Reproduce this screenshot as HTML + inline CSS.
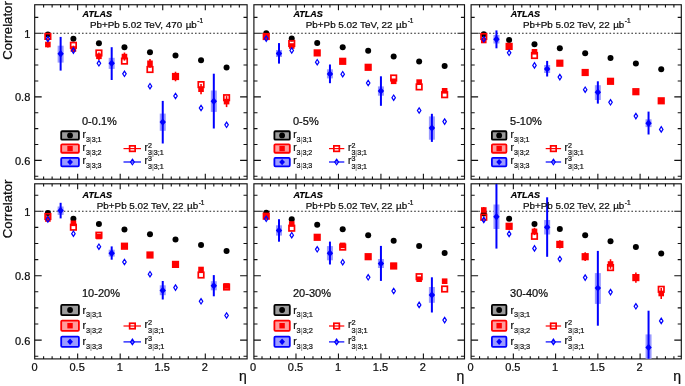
<!DOCTYPE html><html><head><meta charset="utf-8"><style>html,body{margin:0;padding:0;background:#fff;}svg{display:block;filter:blur(0.35px);font-family:'Liberation Sans', sans-serif;} text{stroke:currentColor;stroke-width:0.22px;}</style></head><body><svg width="685" height="386" viewBox="0 0 685 386"><rect width="685" height="386" fill="#fff"/><rect x="34.7" y="4.75" width="212.4" height="174.45" fill="none" stroke="#111" stroke-width="1.15"/><path d="M34.7 176.29h3.6M247.1 176.29h-3.6M34.7 160.4h7M247.1 160.4h-7M34.7 144.51h3.6M247.1 144.51h-3.6M34.7 128.62h3.6M247.1 128.62h-3.6M34.7 112.74h3.6M247.1 112.74h-3.6M34.7 96.85h7M247.1 96.85h-7M34.7 80.96h3.6M247.1 80.96h-3.6M34.7 65.07h3.6M247.1 65.07h-3.6M34.7 49.19h3.6M247.1 49.19h-3.6M34.7 33.3h7M247.1 33.3h-7M34.7 17.41h3.6M247.1 17.41h-3.6M43.61 179.2v-2.7M43.61 4.75v2.7M52.12 179.2v-2.7M52.12 4.75v2.7M60.63 179.2v-2.7M60.63 4.75v2.7M69.14 179.2v-2.7M69.14 4.75v2.7M77.65 179.2v-5.5M77.65 4.75v5.5M86.16 179.2v-2.7M86.16 4.75v2.7M94.67 179.2v-2.7M94.67 4.75v2.7M103.18 179.2v-2.7M103.18 4.75v2.7M111.69 179.2v-2.7M111.69 4.75v2.7M120.2 179.2v-5.5M120.2 4.75v5.5M128.71 179.2v-2.7M128.71 4.75v2.7M137.22 179.2v-2.7M137.22 4.75v2.7M145.73 179.2v-2.7M145.73 4.75v2.7M154.24 179.2v-2.7M154.24 4.75v2.7M162.75 179.2v-5.5M162.75 4.75v5.5M171.26 179.2v-2.7M171.26 4.75v2.7M179.77 179.2v-2.7M179.77 4.75v2.7M188.28 179.2v-2.7M188.28 4.75v2.7M196.79 179.2v-2.7M196.79 4.75v2.7M205.3 179.2v-5.5M205.3 4.75v5.5M213.81 179.2v-2.7M213.81 4.75v2.7M222.32 179.2v-2.7M222.32 4.75v2.7M230.83 179.2v-2.7M230.83 4.75v2.7M239.34 179.2v-2.7M239.34 4.75v2.7" stroke="#111" stroke-width="1.1" fill="none"/><line x1="41.9" y1="33.3" x2="240.1" y2="33.3" stroke="#222" stroke-width="1.1" stroke-dasharray="1.6 2.045"/><rect x="57.63" y="45.7" width="6" height="16.9" fill="#9a9aff"/><line x1="60.63" y1="36.9" x2="60.63" y2="70.6" stroke="#0000ff" stroke-width="2"/><rect x="108.69" y="57.8" width="6" height="11.1" fill="#9a9aff"/><line x1="111.69" y1="47.2" x2="111.69" y2="80" stroke="#0000ff" stroke-width="2"/><rect x="159.75" y="113.6" width="6" height="17.2" fill="#9a9aff"/><line x1="162.75" y1="100.9" x2="162.75" y2="143.5" stroke="#0000ff" stroke-width="2"/><rect x="210.81" y="90.5" width="6" height="21.4" fill="#9a9aff"/><line x1="213.81" y1="73.7" x2="213.81" y2="128.5" stroke="#0000ff" stroke-width="2"/><line x1="47.87" y1="41.52" x2="47.87" y2="47.48" stroke="#ff0000" stroke-width="1.6"/><line x1="73.4" y1="45.66" x2="73.4" y2="52.34" stroke="#ff0000" stroke-width="1.6"/><line x1="98.92" y1="52.6" x2="98.92" y2="60" stroke="#ff0000" stroke-width="1.6"/><line x1="124.46" y1="52.54" x2="124.46" y2="60.66" stroke="#ff0000" stroke-width="1.6"/><line x1="149.99" y1="58.88" x2="149.99" y2="67.72" stroke="#ff0000" stroke-width="1.6"/><line x1="175.51" y1="71.72" x2="175.51" y2="81.28" stroke="#ff0000" stroke-width="1.6"/><line x1="201.04" y1="84.06" x2="201.04" y2="94.34" stroke="#ff0000" stroke-width="1.6"/><line x1="226.57" y1="96.1" x2="226.57" y2="107.1" stroke="#ff0000" stroke-width="1.6"/><circle cx="47.87" cy="34.5" r="3" fill="#000000"/><circle cx="73.4" cy="38.8" r="3" fill="#000000"/><circle cx="98.92" cy="43.3" r="3" fill="#000000"/><circle cx="124.46" cy="47.2" r="3" fill="#000000"/><circle cx="149.99" cy="52.2" r="3" fill="#000000"/><circle cx="175.51" cy="55.5" r="3" fill="#000000"/><circle cx="201.04" cy="60.3" r="3" fill="#000000"/><circle cx="226.57" cy="67.4" r="3" fill="#000000"/><rect x="45.07" y="41.7" width="5.6" height="5.6" fill="#ff0000"/><rect x="70.6" y="46.2" width="5.6" height="5.6" fill="#ff0000"/><rect x="96.12" y="53.5" width="5.6" height="5.6" fill="#ff0000"/><rect x="121.66" y="53.8" width="5.6" height="5.6" fill="#ff0000"/><rect x="147.19" y="60.5" width="5.6" height="5.6" fill="#ff0000"/><rect x="172.71" y="73.7" width="5.6" height="5.6" fill="#ff0000"/><rect x="198.24" y="86.4" width="5.6" height="5.6" fill="#ff0000"/><rect x="223.77" y="98.8" width="5.6" height="5.6" fill="#ff0000"/><rect x="45.12" y="33.65" width="5.5" height="5.5" fill="none" stroke="#ff0000" stroke-width="1.7"/><rect x="70.65" y="42.55" width="5.5" height="5.5" fill="none" stroke="#ff0000" stroke-width="1.7"/><rect x="96.17" y="50.25" width="5.5" height="5.5" fill="none" stroke="#ff0000" stroke-width="1.7"/><rect x="121.71" y="58.35" width="5.5" height="5.5" fill="none" stroke="#ff0000" stroke-width="1.7"/><rect x="147.24" y="66.75" width="5.5" height="5.5" fill="none" stroke="#ff0000" stroke-width="1.7"/><rect x="172.76" y="73.75" width="5.5" height="5.5" fill="none" stroke="#ff0000" stroke-width="1.7"/><rect x="198.29" y="81.85" width="5.5" height="5.5" fill="none" stroke="#ff0000" stroke-width="1.7"/><rect x="223.82" y="94.95" width="5.5" height="5.5" fill="none" stroke="#ff0000" stroke-width="1.7"/><path d="M60.63 50.1L63.83 53.8L60.63 57.5L57.43 53.8Z" fill="#0000ff"/><path d="M111.69 59.6L114.89 63.3L111.69 67L108.49 63.3Z" fill="#0000ff"/><path d="M162.75 118.4L165.95 122.1L162.75 125.8L159.55 122.1Z" fill="#0000ff"/><path d="M213.81 97.6L217.01 101.3L213.81 105L210.61 101.3Z" fill="#0000ff"/><path d="M47.87 36.3L49.62 39L47.87 41.7L46.12 39Z" fill="none" stroke="#0000ff" stroke-width="1.2"/><path d="M73.4 47.9L75.15 50.6L73.4 53.3L71.65 50.6Z" fill="none" stroke="#0000ff" stroke-width="1.2"/><path d="M98.92 60.6L100.67 63.3L98.92 66L97.17 63.3Z" fill="none" stroke="#0000ff" stroke-width="1.2"/><path d="M124.46 71.1L126.21 73.8L124.46 76.5L122.71 73.8Z" fill="none" stroke="#0000ff" stroke-width="1.2"/><path d="M149.99 83.5L151.74 86.2L149.99 88.9L148.24 86.2Z" fill="none" stroke="#0000ff" stroke-width="1.2"/><path d="M175.51 93.3L177.26 96L175.51 98.7L173.76 96Z" fill="none" stroke="#0000ff" stroke-width="1.2"/><path d="M201.04 105.3L202.79 108L201.04 110.7L199.29 108Z" fill="none" stroke="#0000ff" stroke-width="1.2"/><path d="M226.57 122.1L228.32 124.8L226.57 127.5L224.82 124.8Z" fill="none" stroke="#0000ff" stroke-width="1.2"/><text x="82.6" y="17.1" font-size="9" font-weight="bold" font-style="italic" fill="#000">ATLAS</text><text x="90" y="27.5" font-size="9.85" fill="#111">Pb+Pb 5.02 TeV, 470 <tspan dx="0.7">µb</tspan><tspan font-size="6.5" dx="0.5" dy="-4.2">-1</tspan></text><text x="82" y="125" font-size="11" fill="#111">0-0.1%</text><rect x="61.2" y="131.25" width="17.7" height="8.4" rx="1" fill="#9c9c9c" stroke="#000000" stroke-width="1.8"/><circle cx="70.05" cy="135.45" r="2.9" fill="#000000"/><text x="82.5" y="137.75" font-size="10" fill="#111">r</text><text x="85.9" y="141.55" font-size="7.1" fill="#222">3<tspan fill="#8a8a8a" stroke="#8a8a8a">|</tspan>3;1</text><rect x="61.2" y="144.35" width="17.7" height="8.4" rx="1" fill="#ff9c9c" stroke="#ff0000" stroke-width="1.8"/><rect x="67.35" y="145.85" width="5.4" height="5.4" fill="#ff0000"/><text x="82.5" y="150.85" font-size="10" fill="#111">r</text><text x="85.9" y="154.65" font-size="7.1" fill="#222">3<tspan fill="#8a8a8a" stroke="#8a8a8a">|</tspan>3;2</text><rect x="61.2" y="157.9" width="17.7" height="8.4" rx="1" fill="#9c9cff" stroke="#0000ff" stroke-width="1.8"/><path d="M70.05 158.9L72.95 162.1L70.05 165.3L67.15 162.1Z" fill="#0000ff"/><text x="82.5" y="164.4" font-size="10" fill="#111">r</text><text x="85.9" y="168.2" font-size="7.1" fill="#222">3<tspan fill="#8a8a8a" stroke="#8a8a8a">|</tspan>3;3</text><line x1="123.5" y1="148.6" x2="141" y2="148.6" stroke="#ff0000" stroke-width="1.2"/><rect x="129.65" y="145.85" width="5.5" height="5.5" fill="none" stroke="#ff0000" stroke-width="1.7"/><text x="144.6" y="150.8" font-size="10" fill="#111">r</text><text x="148" y="147.5" font-size="7.1" fill="#222">2</text><text x="148" y="155.2" font-size="7.1" fill="#222">3<tspan fill="#8a8a8a" stroke="#8a8a8a">|</tspan>3;1</text><line x1="123.5" y1="162" x2="141" y2="162" stroke="#0000ff" stroke-width="1.2"/><path d="M132.4 159.2L134.3 162L132.4 164.8L130.5 162Z" fill="none" stroke="#0000ff" stroke-width="1.2"/><text x="144.6" y="164.2" font-size="10" fill="#111">r</text><text x="148" y="160.9" font-size="7.1" fill="#222">3</text><text x="148" y="168.6" font-size="7.1" fill="#222">3<tspan fill="#8a8a8a" stroke="#8a8a8a">|</tspan>3;1</text><rect x="253.9" y="4.75" width="210.6" height="174.45" fill="none" stroke="#111" stroke-width="1.15"/><path d="M253.9 176.29h3.6M464.5 176.29h-3.6M253.9 160.4h7M464.5 160.4h-7M253.9 144.51h3.6M464.5 144.51h-3.6M253.9 128.62h3.6M464.5 128.62h-3.6M253.9 112.74h3.6M464.5 112.74h-3.6M253.9 96.85h7M464.5 96.85h-7M253.9 80.96h3.6M464.5 80.96h-3.6M253.9 65.07h3.6M464.5 65.07h-3.6M253.9 49.19h3.6M464.5 49.19h-3.6M253.9 33.3h7M464.5 33.3h-7M253.9 17.41h3.6M464.5 17.41h-3.6M262 179.2v-2.7M262 4.75v2.7M270.49 179.2v-2.7M270.49 4.75v2.7M278.99 179.2v-2.7M278.99 4.75v2.7M287.48 179.2v-2.7M287.48 4.75v2.7M295.98 179.2v-5.5M295.98 4.75v5.5M304.47 179.2v-2.7M304.47 4.75v2.7M312.96 179.2v-2.7M312.96 4.75v2.7M321.46 179.2v-2.7M321.46 4.75v2.7M329.95 179.2v-2.7M329.95 4.75v2.7M338.45 179.2v-5.5M338.45 4.75v5.5M346.94 179.2v-2.7M346.94 4.75v2.7M355.44 179.2v-2.7M355.44 4.75v2.7M363.94 179.2v-2.7M363.94 4.75v2.7M372.43 179.2v-2.7M372.43 4.75v2.7M380.93 179.2v-5.5M380.93 4.75v5.5M389.42 179.2v-2.7M389.42 4.75v2.7M397.91 179.2v-2.7M397.91 4.75v2.7M406.41 179.2v-2.7M406.41 4.75v2.7M414.9 179.2v-2.7M414.9 4.75v2.7M423.4 179.2v-5.5M423.4 4.75v5.5M431.89 179.2v-2.7M431.89 4.75v2.7M440.39 179.2v-2.7M440.39 4.75v2.7M448.88 179.2v-2.7M448.88 4.75v2.7M457.38 179.2v-2.7M457.38 4.75v2.7" stroke="#111" stroke-width="1.1" fill="none"/><line x1="261.1" y1="33.3" x2="457.5" y2="33.3" stroke="#222" stroke-width="1.1" stroke-dasharray="1.6 2.045"/><rect x="275.99" y="50" width="6" height="7" fill="#9a9aff"/><line x1="278.99" y1="43.1" x2="278.99" y2="63.6" stroke="#0000ff" stroke-width="2"/><rect x="326.95" y="69.3" width="6" height="9.1" fill="#9a9aff"/><line x1="329.95" y1="64.5" x2="329.95" y2="83.2" stroke="#0000ff" stroke-width="2"/><rect x="377.93" y="86.4" width="6" height="9.3" fill="#9a9aff"/><line x1="380.93" y1="76.3" x2="380.93" y2="105.8" stroke="#0000ff" stroke-width="2"/><rect x="428.89" y="116.4" width="6" height="23.3" fill="#9a9aff"/><line x1="431.89" y1="113.8" x2="431.89" y2="141.9" stroke="#0000ff" stroke-width="2"/><circle cx="266.24" cy="33.3" r="3" fill="#000000"/><circle cx="291.73" cy="38.6" r="3" fill="#000000"/><circle cx="317.21" cy="43" r="3" fill="#000000"/><circle cx="342.7" cy="47.3" r="3" fill="#000000"/><circle cx="368.18" cy="50.8" r="3" fill="#000000"/><circle cx="393.67" cy="56.4" r="3" fill="#000000"/><circle cx="419.15" cy="61.4" r="3" fill="#000000"/><circle cx="444.64" cy="65.9" r="3" fill="#000000"/><rect x="263.44" y="33.7" width="5.6" height="5.6" fill="#ff0000"/><rect x="288.93" y="43.2" width="5.6" height="5.6" fill="#ff0000"/><rect x="314.41" y="50.1" width="5.6" height="5.6" fill="#ff0000"/><rect x="339.9" y="58.5" width="5.6" height="5.6" fill="#ff0000"/><rect x="365.38" y="64.5" width="5.6" height="5.6" fill="#ff0000"/><rect x="390.87" y="78.5" width="5.6" height="5.6" fill="#ff0000"/><rect x="416.35" y="79.3" width="5.6" height="5.6" fill="#ff0000"/><rect x="441.84" y="88" width="5.6" height="5.6" fill="#ff0000"/><rect x="263.49" y="33.75" width="5.5" height="5.5" fill="none" stroke="#ff0000" stroke-width="1.7"/><rect x="288.98" y="40.75" width="5.5" height="5.5" fill="none" stroke="#ff0000" stroke-width="1.7"/><rect x="314.46" y="50.15" width="5.5" height="5.5" fill="none" stroke="#ff0000" stroke-width="1.7"/><rect x="339.95" y="58.55" width="5.5" height="5.5" fill="none" stroke="#ff0000" stroke-width="1.7"/><rect x="365.43" y="64.55" width="5.5" height="5.5" fill="none" stroke="#ff0000" stroke-width="1.7"/><rect x="390.92" y="75.25" width="5.5" height="5.5" fill="none" stroke="#ff0000" stroke-width="1.7"/><rect x="416.4" y="84.15" width="5.5" height="5.5" fill="none" stroke="#ff0000" stroke-width="1.7"/><rect x="441.89" y="91.95" width="5.5" height="5.5" fill="none" stroke="#ff0000" stroke-width="1.7"/><path d="M278.99 49.8L282.19 53.5L278.99 57.2L275.79 53.5Z" fill="#0000ff"/><path d="M329.95 70.2L333.15 73.9L329.95 77.6L326.75 73.9Z" fill="#0000ff"/><path d="M380.93 87.2L384.12 90.9L380.93 94.6L377.73 90.9Z" fill="#0000ff"/><path d="M431.89 124.3L435.09 128L431.89 131.7L428.69 128Z" fill="#0000ff"/><path d="M266.24 35.9L267.99 38.6L266.24 41.3L264.49 38.6Z" fill="none" stroke="#0000ff" stroke-width="1.2"/><path d="M291.73 47.8L293.48 50.5L291.73 53.2L289.98 50.5Z" fill="none" stroke="#0000ff" stroke-width="1.2"/><path d="M317.21 59.5L318.96 62.2L317.21 64.9L315.46 62.2Z" fill="none" stroke="#0000ff" stroke-width="1.2"/><path d="M342.7 71.5L344.45 74.2L342.7 76.9L340.95 74.2Z" fill="none" stroke="#0000ff" stroke-width="1.2"/><path d="M368.18 80.3L369.93 83L368.18 85.7L366.43 83Z" fill="none" stroke="#0000ff" stroke-width="1.2"/><path d="M393.67 95L395.42 97.7L393.67 100.4L391.92 97.7Z" fill="none" stroke="#0000ff" stroke-width="1.2"/><path d="M419.15 107.8L420.9 110.5L419.15 113.2L417.4 110.5Z" fill="none" stroke="#0000ff" stroke-width="1.2"/><path d="M444.64 118.9L446.39 121.6L444.64 124.3L442.89 121.6Z" fill="none" stroke="#0000ff" stroke-width="1.2"/><text x="293.4" y="17.1" font-size="9" font-weight="bold" font-style="italic" fill="#000">ATLAS</text><text x="305.8" y="27.5" font-size="9.85" fill="#111">Pb+Pb 5.02 TeV, 22 <tspan dx="0.7">µb</tspan><tspan font-size="6.5" dx="0.5" dy="-4.2">-1</tspan></text><text x="293" y="125" font-size="11" fill="#111">0-5%</text><rect x="274.4" y="131.25" width="15.4" height="8.4" rx="1" fill="#9c9c9c" stroke="#000000" stroke-width="1.8"/><circle cx="282.1" cy="135.45" r="2.9" fill="#000000"/><text x="293.2" y="137.75" font-size="10" fill="#111">r</text><text x="296.6" y="141.55" font-size="7.1" fill="#222">3<tspan fill="#8a8a8a" stroke="#8a8a8a">|</tspan>3;1</text><rect x="274.4" y="144.35" width="15.4" height="8.4" rx="1" fill="#ff9c9c" stroke="#ff0000" stroke-width="1.8"/><rect x="279.4" y="145.85" width="5.4" height="5.4" fill="#ff0000"/><text x="293.2" y="150.85" font-size="10" fill="#111">r</text><text x="296.6" y="154.65" font-size="7.1" fill="#222">3<tspan fill="#8a8a8a" stroke="#8a8a8a">|</tspan>3;2</text><rect x="274.4" y="157.9" width="15.4" height="8.4" rx="1" fill="#9c9cff" stroke="#0000ff" stroke-width="1.8"/><path d="M282.1 158.9L285 162.1L282.1 165.3L279.2 162.1Z" fill="#0000ff"/><text x="293.2" y="164.4" font-size="10" fill="#111">r</text><text x="296.6" y="168.2" font-size="7.1" fill="#222">3<tspan fill="#8a8a8a" stroke="#8a8a8a">|</tspan>3;3</text><line x1="329" y1="148.6" x2="344.3" y2="148.6" stroke="#ff0000" stroke-width="1.2"/><rect x="333.85" y="145.85" width="5.5" height="5.5" fill="none" stroke="#ff0000" stroke-width="1.7"/><text x="348" y="150.8" font-size="10" fill="#111">r</text><text x="351.4" y="147.5" font-size="7.1" fill="#222">2</text><text x="351.4" y="155.2" font-size="7.1" fill="#222">3<tspan fill="#8a8a8a" stroke="#8a8a8a">|</tspan>3;1</text><line x1="329" y1="162" x2="344.3" y2="162" stroke="#0000ff" stroke-width="1.2"/><path d="M336.6 159.2L338.5 162L336.6 164.8L334.7 162Z" fill="none" stroke="#0000ff" stroke-width="1.2"/><text x="348" y="164.2" font-size="10" fill="#111">r</text><text x="351.4" y="160.9" font-size="7.1" fill="#222">3</text><text x="351.4" y="168.6" font-size="7.1" fill="#222">3<tspan fill="#8a8a8a" stroke="#8a8a8a">|</tspan>3;1</text><rect x="471.1" y="4.75" width="210.2" height="174.45" fill="none" stroke="#111" stroke-width="1.15"/><path d="M471.1 176.29h3.6M681.3 176.29h-3.6M471.1 160.4h7M681.3 160.4h-7M471.1 144.51h3.6M681.3 144.51h-3.6M471.1 128.62h3.6M681.3 128.62h-3.6M471.1 112.74h3.6M681.3 112.74h-3.6M471.1 96.85h7M681.3 96.85h-7M471.1 80.96h3.6M681.3 80.96h-3.6M471.1 65.07h3.6M681.3 65.07h-3.6M471.1 49.19h3.6M681.3 49.19h-3.6M471.1 33.3h7M681.3 33.3h-7M471.1 17.41h3.6M681.3 17.41h-3.6M479.55 179.2v-2.7M479.55 4.75v2.7M488 179.2v-2.7M488 4.75v2.7M496.45 179.2v-2.7M496.45 4.75v2.7M504.9 179.2v-2.7M504.9 4.75v2.7M513.35 179.2v-5.5M513.35 4.75v5.5M521.8 179.2v-2.7M521.8 4.75v2.7M530.25 179.2v-2.7M530.25 4.75v2.7M538.7 179.2v-2.7M538.7 4.75v2.7M547.15 179.2v-2.7M547.15 4.75v2.7M555.6 179.2v-5.5M555.6 4.75v5.5M564.05 179.2v-2.7M564.05 4.75v2.7M572.5 179.2v-2.7M572.5 4.75v2.7M580.95 179.2v-2.7M580.95 4.75v2.7M589.4 179.2v-2.7M589.4 4.75v2.7M597.85 179.2v-5.5M597.85 4.75v5.5M606.3 179.2v-2.7M606.3 4.75v2.7M614.75 179.2v-2.7M614.75 4.75v2.7M623.2 179.2v-2.7M623.2 4.75v2.7M631.65 179.2v-2.7M631.65 4.75v2.7M640.1 179.2v-5.5M640.1 4.75v5.5M648.55 179.2v-2.7M648.55 4.75v2.7M657 179.2v-2.7M657 4.75v2.7M665.45 179.2v-2.7M665.45 4.75v2.7M673.9 179.2v-2.7M673.9 4.75v2.7" stroke="#111" stroke-width="1.1" fill="none"/><line x1="478.3" y1="33.3" x2="674.3" y2="33.3" stroke="#222" stroke-width="1.1" stroke-dasharray="1.6 2.045"/><rect x="493.45" y="35" width="6" height="8.5" fill="#9a9aff"/><line x1="496.45" y1="30.4" x2="496.45" y2="48.3" stroke="#0000ff" stroke-width="2"/><rect x="544.15" y="65" width="6" height="8" fill="#9a9aff"/><line x1="547.15" y1="60.9" x2="547.15" y2="76.5" stroke="#0000ff" stroke-width="2"/><rect x="594.85" y="85.2" width="6" height="14.8" fill="#9a9aff"/><line x1="597.85" y1="81.3" x2="597.85" y2="103.6" stroke="#0000ff" stroke-width="2"/><rect x="645.55" y="119.3" width="6" height="7.8" fill="#9a9aff"/><line x1="648.55" y1="111.6" x2="648.55" y2="134.5" stroke="#0000ff" stroke-width="2"/><circle cx="483.78" cy="34.3" r="3" fill="#000000"/><circle cx="509.12" cy="39.9" r="3" fill="#000000"/><circle cx="534.48" cy="44.3" r="3" fill="#000000"/><circle cx="559.83" cy="48.3" r="3" fill="#000000"/><circle cx="585.18" cy="53.2" r="3" fill="#000000"/><circle cx="610.52" cy="58" r="3" fill="#000000"/><circle cx="635.88" cy="63.6" r="3" fill="#000000"/><circle cx="661.23" cy="69.2" r="3" fill="#000000"/><rect x="480.98" y="37.7" width="5.6" height="5.6" fill="#ff0000"/><rect x="506.32" y="43.6" width="5.6" height="5.6" fill="#ff0000"/><rect x="531.68" y="49" width="5.6" height="5.6" fill="#ff0000"/><rect x="557.03" y="60.4" width="5.6" height="5.6" fill="#ff0000"/><rect x="582.38" y="69.7" width="5.6" height="5.6" fill="#ff0000"/><rect x="607.73" y="78.5" width="5.6" height="5.6" fill="#ff0000"/><rect x="633.08" y="89.2" width="5.6" height="5.6" fill="#ff0000"/><rect x="658.43" y="98" width="5.6" height="5.6" fill="#ff0000"/><rect x="481.03" y="33.75" width="5.5" height="5.5" fill="none" stroke="#ff0000" stroke-width="1.7"/><rect x="506.38" y="43.65" width="5.5" height="5.5" fill="none" stroke="#ff0000" stroke-width="1.7"/><rect x="531.73" y="52.75" width="5.5" height="5.5" fill="none" stroke="#ff0000" stroke-width="1.7"/><rect x="557.08" y="60.45" width="5.5" height="5.5" fill="none" stroke="#ff0000" stroke-width="1.7"/><rect x="582.43" y="69.75" width="5.5" height="5.5" fill="none" stroke="#ff0000" stroke-width="1.7"/><rect x="607.77" y="78.55" width="5.5" height="5.5" fill="none" stroke="#ff0000" stroke-width="1.7"/><rect x="633.12" y="88.95" width="5.5" height="5.5" fill="none" stroke="#ff0000" stroke-width="1.7"/><rect x="658.48" y="98.05" width="5.5" height="5.5" fill="none" stroke="#ff0000" stroke-width="1.7"/><path d="M496.45 35.5L499.65 39.2L496.45 42.9L493.25 39.2Z" fill="#0000ff"/><path d="M547.15 65.2L550.35 68.9L547.15 72.6L543.95 68.9Z" fill="#0000ff"/><path d="M597.85 88.6L601.05 92.3L597.85 96L594.65 92.3Z" fill="#0000ff"/><path d="M648.55 119.5L651.75 123.2L648.55 126.9L645.35 123.2Z" fill="#0000ff"/><path d="M483.78 36.5L485.53 39.2L483.78 41.9L482.03 39.2Z" fill="none" stroke="#0000ff" stroke-width="1.2"/><path d="M509.12 50.1L510.88 52.8L509.12 55.5L507.38 52.8Z" fill="none" stroke="#0000ff" stroke-width="1.2"/><path d="M534.48 62.7L536.23 65.4L534.48 68.1L532.73 65.4Z" fill="none" stroke="#0000ff" stroke-width="1.2"/><path d="M559.83 74.4L561.58 77.1L559.83 79.8L558.08 77.1Z" fill="none" stroke="#0000ff" stroke-width="1.2"/><path d="M585.18 87L586.93 89.7L585.18 92.4L583.43 89.7Z" fill="none" stroke="#0000ff" stroke-width="1.2"/><path d="M610.52 99.6L612.27 102.3L610.52 105L608.77 102.3Z" fill="none" stroke="#0000ff" stroke-width="1.2"/><path d="M635.88 113.4L637.62 116.1L635.88 118.8L634.12 116.1Z" fill="none" stroke="#0000ff" stroke-width="1.2"/><path d="M661.23 126.7L662.98 129.4L661.23 132.1L659.48 129.4Z" fill="none" stroke="#0000ff" stroke-width="1.2"/><text x="510.7" y="17.1" font-size="9" font-weight="bold" font-style="italic" fill="#000">ATLAS</text><text x="523" y="27.5" font-size="9.85" fill="#111">Pb+Pb 5.02 TeV, 22 <tspan dx="0.7">µb</tspan><tspan font-size="6.5" dx="0.5" dy="-4.2">-1</tspan></text><text x="510.1" y="125" font-size="11" fill="#111">5-10%</text><rect x="491.9" y="131.25" width="14.5" height="8.4" rx="1" fill="#9c9c9c" stroke="#000000" stroke-width="1.8"/><circle cx="499.15" cy="135.45" r="2.9" fill="#000000"/><text x="510.5" y="137.75" font-size="10" fill="#111">r</text><text x="513.9" y="141.55" font-size="7.1" fill="#222">3<tspan fill="#8a8a8a" stroke="#8a8a8a">|</tspan>3;1</text><rect x="491.9" y="144.35" width="14.5" height="8.4" rx="1" fill="#ff9c9c" stroke="#ff0000" stroke-width="1.8"/><rect x="496.45" y="145.85" width="5.4" height="5.4" fill="#ff0000"/><text x="510.5" y="150.85" font-size="10" fill="#111">r</text><text x="513.9" y="154.65" font-size="7.1" fill="#222">3<tspan fill="#8a8a8a" stroke="#8a8a8a">|</tspan>3;2</text><rect x="491.9" y="157.9" width="14.5" height="8.4" rx="1" fill="#9c9cff" stroke="#0000ff" stroke-width="1.8"/><path d="M499.15 158.9L502.05 162.1L499.15 165.3L496.25 162.1Z" fill="#0000ff"/><text x="510.5" y="164.4" font-size="10" fill="#111">r</text><text x="513.9" y="168.2" font-size="7.1" fill="#222">3<tspan fill="#8a8a8a" stroke="#8a8a8a">|</tspan>3;3</text><line x1="545.7" y1="148.6" x2="561.1" y2="148.6" stroke="#ff0000" stroke-width="1.2"/><rect x="550.65" y="145.85" width="5.5" height="5.5" fill="none" stroke="#ff0000" stroke-width="1.7"/><text x="564.6" y="150.8" font-size="10" fill="#111">r</text><text x="568" y="147.5" font-size="7.1" fill="#222">2</text><text x="568" y="155.2" font-size="7.1" fill="#222">3<tspan fill="#8a8a8a" stroke="#8a8a8a">|</tspan>3;1</text><line x1="545.7" y1="162" x2="561.1" y2="162" stroke="#0000ff" stroke-width="1.2"/><path d="M553.4 159.2L555.3 162L553.4 164.8L551.5 162Z" fill="none" stroke="#0000ff" stroke-width="1.2"/><text x="564.6" y="164.2" font-size="10" fill="#111">r</text><text x="568" y="160.9" font-size="7.1" fill="#222">3</text><text x="568" y="168.6" font-size="7.1" fill="#222">3<tspan fill="#8a8a8a" stroke="#8a8a8a">|</tspan>3;1</text><rect x="34.7" y="183.8" width="212.4" height="175.1" fill="none" stroke="#111" stroke-width="1.15"/><path d="M34.7 356.2h3.6M247.1 356.2h-3.6M34.7 340.1h7M247.1 340.1h-7M34.7 324h3.6M247.1 324h-3.6M34.7 307.9h3.6M247.1 307.9h-3.6M34.7 291.8h3.6M247.1 291.8h-3.6M34.7 275.7h7M247.1 275.7h-7M34.7 259.6h3.6M247.1 259.6h-3.6M34.7 243.5h3.6M247.1 243.5h-3.6M34.7 227.4h3.6M247.1 227.4h-3.6M34.7 211.3h7M247.1 211.3h-7M34.7 195.2h3.6M247.1 195.2h-3.6M43.61 358.9v-2.7M43.61 183.8v2.7M52.12 358.9v-2.7M52.12 183.8v2.7M60.63 358.9v-2.7M60.63 183.8v2.7M69.14 358.9v-2.7M69.14 183.8v2.7M77.65 358.9v-5.5M77.65 183.8v5.5M86.16 358.9v-2.7M86.16 183.8v2.7M94.67 358.9v-2.7M94.67 183.8v2.7M103.18 358.9v-2.7M103.18 183.8v2.7M111.69 358.9v-2.7M111.69 183.8v2.7M120.2 358.9v-5.5M120.2 183.8v5.5M128.71 358.9v-2.7M128.71 183.8v2.7M137.22 358.9v-2.7M137.22 183.8v2.7M145.73 358.9v-2.7M145.73 183.8v2.7M154.24 358.9v-2.7M154.24 183.8v2.7M162.75 358.9v-5.5M162.75 183.8v5.5M171.26 358.9v-2.7M171.26 183.8v2.7M179.77 358.9v-2.7M179.77 183.8v2.7M188.28 358.9v-2.7M188.28 183.8v2.7M196.79 358.9v-2.7M196.79 183.8v2.7M205.3 358.9v-5.5M205.3 183.8v5.5M213.81 358.9v-2.7M213.81 183.8v2.7M222.32 358.9v-2.7M222.32 183.8v2.7M230.83 358.9v-2.7M230.83 183.8v2.7M239.34 358.9v-2.7M239.34 183.8v2.7" stroke="#111" stroke-width="1.1" fill="none"/><line x1="41.9" y1="211.3" x2="240.1" y2="211.3" stroke="#222" stroke-width="1.1" stroke-dasharray="1.6 2.045"/><rect x="57.63" y="206.5" width="6" height="8.4" fill="#9a9aff"/><line x1="60.63" y1="202.8" x2="60.63" y2="218.4" stroke="#0000ff" stroke-width="2"/><rect x="108.69" y="249.7" width="6" height="6.9" fill="#9a9aff"/><line x1="111.69" y1="246.4" x2="111.69" y2="259.7" stroke="#0000ff" stroke-width="2"/><rect x="159.75" y="285.3" width="6" height="9.9" fill="#9a9aff"/><line x1="162.75" y1="281" x2="162.75" y2="299.5" stroke="#0000ff" stroke-width="2"/><rect x="210.81" y="281.2" width="6" height="9.1" fill="#9a9aff"/><line x1="213.81" y1="275.1" x2="213.81" y2="296.3" stroke="#0000ff" stroke-width="2"/><circle cx="47.87" cy="213" r="3" fill="#000000"/><circle cx="73.4" cy="218.8" r="3" fill="#000000"/><circle cx="98.92" cy="223.9" r="3" fill="#000000"/><circle cx="124.46" cy="229.4" r="3" fill="#000000"/><circle cx="149.99" cy="234.2" r="3" fill="#000000"/><circle cx="175.51" cy="239.4" r="3" fill="#000000"/><circle cx="201.04" cy="244.9" r="3" fill="#000000"/><circle cx="226.57" cy="251" r="3" fill="#000000"/><rect x="45.07" y="216.2" width="5.6" height="5.6" fill="#ff0000"/><rect x="70.6" y="220.5" width="5.6" height="5.6" fill="#ff0000"/><rect x="96.12" y="233.7" width="5.6" height="5.6" fill="#ff0000"/><rect x="121.66" y="243.2" width="5.6" height="5.6" fill="#ff0000"/><rect x="147.19" y="252.2" width="5.6" height="5.6" fill="#ff0000"/><rect x="172.71" y="261.6" width="5.6" height="5.6" fill="#ff0000"/><rect x="198.24" y="266.7" width="5.6" height="5.6" fill="#ff0000"/><rect x="223.77" y="283.2" width="5.6" height="5.6" fill="#ff0000"/><rect x="45.12" y="213.75" width="5.5" height="5.5" fill="none" stroke="#ff0000" stroke-width="1.7"/><rect x="70.65" y="224.45" width="5.5" height="5.5" fill="none" stroke="#ff0000" stroke-width="1.7"/><rect x="96.17" y="232.45" width="5.5" height="5.5" fill="none" stroke="#ff0000" stroke-width="1.7"/><rect x="121.71" y="243.45" width="5.5" height="5.5" fill="none" stroke="#ff0000" stroke-width="1.7"/><rect x="147.24" y="252.25" width="5.5" height="5.5" fill="none" stroke="#ff0000" stroke-width="1.7"/><rect x="172.76" y="261.65" width="5.5" height="5.5" fill="none" stroke="#ff0000" stroke-width="1.7"/><rect x="198.29" y="272.25" width="5.5" height="5.5" fill="none" stroke="#ff0000" stroke-width="1.7"/><rect x="223.82" y="284.25" width="5.5" height="5.5" fill="none" stroke="#ff0000" stroke-width="1.7"/><path d="M60.63 206.9L63.83 210.6L60.63 214.3L57.43 210.6Z" fill="#0000ff"/><path d="M111.69 249.5L114.89 253.2L111.69 256.9L108.49 253.2Z" fill="#0000ff"/><path d="M162.75 286.7L165.95 290.4L162.75 294.1L159.55 290.4Z" fill="#0000ff"/><path d="M213.81 282L217.01 285.7L213.81 289.4L210.61 285.7Z" fill="#0000ff"/><path d="M47.87 216.7L49.62 219.4L47.87 222.1L46.12 219.4Z" fill="none" stroke="#0000ff" stroke-width="1.2"/><path d="M73.4 231L75.15 233.7L73.4 236.4L71.65 233.7Z" fill="none" stroke="#0000ff" stroke-width="1.2"/><path d="M98.92 244L100.67 246.7L98.92 249.4L97.17 246.7Z" fill="none" stroke="#0000ff" stroke-width="1.2"/><path d="M124.46 259.3L126.21 262L124.46 264.7L122.71 262Z" fill="none" stroke="#0000ff" stroke-width="1.2"/><path d="M149.99 271.5L151.74 274.2L149.99 276.9L148.24 274.2Z" fill="none" stroke="#0000ff" stroke-width="1.2"/><path d="M175.51 284.9L177.26 287.6L175.51 290.3L173.76 287.6Z" fill="none" stroke="#0000ff" stroke-width="1.2"/><path d="M201.04 298.6L202.79 301.3L201.04 304L199.29 301.3Z" fill="none" stroke="#0000ff" stroke-width="1.2"/><path d="M226.57 312.8L228.32 315.5L226.57 318.2L224.82 315.5Z" fill="none" stroke="#0000ff" stroke-width="1.2"/><text x="82.6" y="198.4" font-size="9" font-weight="bold" font-style="italic" fill="#000">ATLAS</text><text x="96.8" y="209.1" font-size="9.85" fill="#111">Pb+Pb 5.02 TeV, 22 <tspan dx="0.7">µb</tspan><tspan font-size="6.5" dx="0.5" dy="-4.2">-1</tspan></text><text x="82" y="296.8" font-size="11" fill="#111">10-20%</text><rect x="61.2" y="304.9" width="17.7" height="10.2" rx="1" fill="#9c9c9c" stroke="#000000" stroke-width="1.8"/><circle cx="70.05" cy="310" r="2.9" fill="#000000"/><text x="82.5" y="313.6" font-size="10.3" fill="#111">r</text><text x="85.9" y="317.4" font-size="7.4" fill="#222">3<tspan fill="#8a8a8a" stroke="#8a8a8a">|</tspan>3;1</text><rect x="61.2" y="320.6" width="17.7" height="10.2" rx="1" fill="#ff9c9c" stroke="#ff0000" stroke-width="1.8"/><rect x="67.35" y="323" width="5.4" height="5.4" fill="#ff0000"/><text x="82.5" y="329.3" font-size="10.3" fill="#111">r</text><text x="85.9" y="333.1" font-size="7.4" fill="#222">3<tspan fill="#8a8a8a" stroke="#8a8a8a">|</tspan>3;2</text><rect x="61.2" y="336.65" width="17.7" height="10.2" rx="1" fill="#9c9cff" stroke="#0000ff" stroke-width="1.8"/><path d="M70.05 338.55L72.95 341.75L70.05 344.95L67.15 341.75Z" fill="#0000ff"/><text x="82.5" y="345.35" font-size="10.3" fill="#111">r</text><text x="85.9" y="349.15" font-size="7.4" fill="#222">3<tspan fill="#8a8a8a" stroke="#8a8a8a">|</tspan>3;3</text><line x1="123.5" y1="326" x2="141" y2="326" stroke="#ff0000" stroke-width="1.2"/><rect x="129.65" y="323.25" width="5.5" height="5.5" fill="none" stroke="#ff0000" stroke-width="1.7"/><text x="144.6" y="328.2" font-size="10.3" fill="#111">r</text><text x="148" y="324.9" font-size="7.4" fill="#222">2</text><text x="148" y="332.6" font-size="7.4" fill="#222">3<tspan fill="#8a8a8a" stroke="#8a8a8a">|</tspan>3;1</text><line x1="123.5" y1="341.9" x2="141" y2="341.9" stroke="#0000ff" stroke-width="1.2"/><path d="M132.4 339.1L134.3 341.9L132.4 344.7L130.5 341.9Z" fill="none" stroke="#0000ff" stroke-width="1.2"/><text x="144.6" y="344.1" font-size="10.3" fill="#111">r</text><text x="148" y="340.8" font-size="7.4" fill="#222">3</text><text x="148" y="348.5" font-size="7.4" fill="#222">3<tspan fill="#8a8a8a" stroke="#8a8a8a">|</tspan>3;1</text><rect x="253.9" y="183.8" width="210.6" height="175.1" fill="none" stroke="#111" stroke-width="1.15"/><path d="M253.9 356.2h3.6M464.5 356.2h-3.6M253.9 340.1h7M464.5 340.1h-7M253.9 324h3.6M464.5 324h-3.6M253.9 307.9h3.6M464.5 307.9h-3.6M253.9 291.8h3.6M464.5 291.8h-3.6M253.9 275.7h7M464.5 275.7h-7M253.9 259.6h3.6M464.5 259.6h-3.6M253.9 243.5h3.6M464.5 243.5h-3.6M253.9 227.4h3.6M464.5 227.4h-3.6M253.9 211.3h7M464.5 211.3h-7M253.9 195.2h3.6M464.5 195.2h-3.6M262 358.9v-2.7M262 183.8v2.7M270.49 358.9v-2.7M270.49 183.8v2.7M278.99 358.9v-2.7M278.99 183.8v2.7M287.48 358.9v-2.7M287.48 183.8v2.7M295.98 358.9v-5.5M295.98 183.8v5.5M304.47 358.9v-2.7M304.47 183.8v2.7M312.96 358.9v-2.7M312.96 183.8v2.7M321.46 358.9v-2.7M321.46 183.8v2.7M329.95 358.9v-2.7M329.95 183.8v2.7M338.45 358.9v-5.5M338.45 183.8v5.5M346.94 358.9v-2.7M346.94 183.8v2.7M355.44 358.9v-2.7M355.44 183.8v2.7M363.94 358.9v-2.7M363.94 183.8v2.7M372.43 358.9v-2.7M372.43 183.8v2.7M380.93 358.9v-5.5M380.93 183.8v5.5M389.42 358.9v-2.7M389.42 183.8v2.7M397.91 358.9v-2.7M397.91 183.8v2.7M406.41 358.9v-2.7M406.41 183.8v2.7M414.9 358.9v-2.7M414.9 183.8v2.7M423.4 358.9v-5.5M423.4 183.8v5.5M431.89 358.9v-2.7M431.89 183.8v2.7M440.39 358.9v-2.7M440.39 183.8v2.7M448.88 358.9v-2.7M448.88 183.8v2.7M457.38 358.9v-2.7M457.38 183.8v2.7" stroke="#111" stroke-width="1.1" fill="none"/><line x1="261.1" y1="211.3" x2="457.5" y2="211.3" stroke="#222" stroke-width="1.1" stroke-dasharray="1.6 2.045"/><rect x="275.99" y="225.3" width="6" height="10.3" fill="#9a9aff"/><line x1="278.99" y1="219.2" x2="278.99" y2="241.7" stroke="#0000ff" stroke-width="2"/><rect x="326.95" y="246.1" width="6" height="14.2" fill="#9a9aff"/><line x1="329.95" y1="241.6" x2="329.95" y2="264.5" stroke="#0000ff" stroke-width="2"/><rect x="377.93" y="259" width="6" height="9" fill="#9a9aff"/><line x1="380.93" y1="245.9" x2="380.93" y2="280.9" stroke="#0000ff" stroke-width="2"/><rect x="428.89" y="287" width="6" height="15.8" fill="#9a9aff"/><line x1="431.89" y1="277.3" x2="431.89" y2="312.5" stroke="#0000ff" stroke-width="2"/><circle cx="266.24" cy="212.7" r="3" fill="#000000"/><circle cx="291.73" cy="219.2" r="3" fill="#000000"/><circle cx="317.21" cy="224.7" r="3" fill="#000000"/><circle cx="342.7" cy="229.2" r="3" fill="#000000"/><circle cx="368.18" cy="235.2" r="3" fill="#000000"/><circle cx="393.67" cy="240.7" r="3" fill="#000000"/><circle cx="419.15" cy="246.1" r="3" fill="#000000"/><circle cx="444.64" cy="253.1" r="3" fill="#000000"/><rect x="263.44" y="213.4" width="5.6" height="5.6" fill="#ff0000"/><rect x="288.93" y="221.2" width="5.6" height="5.6" fill="#ff0000"/><rect x="314.41" y="234.5" width="5.6" height="5.6" fill="#ff0000"/><rect x="339.9" y="242.6" width="5.6" height="5.6" fill="#ff0000"/><rect x="365.38" y="253.9" width="5.6" height="5.6" fill="#ff0000"/><rect x="390.87" y="262.8" width="5.6" height="5.6" fill="#ff0000"/><rect x="416.35" y="276.4" width="5.6" height="5.6" fill="#ff0000"/><rect x="441.84" y="278.4" width="5.6" height="5.6" fill="#ff0000"/><rect x="263.49" y="213.45" width="5.5" height="5.5" fill="none" stroke="#ff0000" stroke-width="1.7"/><rect x="288.98" y="225.45" width="5.5" height="5.5" fill="none" stroke="#ff0000" stroke-width="1.7"/><rect x="314.46" y="234.55" width="5.5" height="5.5" fill="none" stroke="#ff0000" stroke-width="1.7"/><rect x="339.95" y="244.35" width="5.5" height="5.5" fill="none" stroke="#ff0000" stroke-width="1.7"/><rect x="365.43" y="253.95" width="5.5" height="5.5" fill="none" stroke="#ff0000" stroke-width="1.7"/><rect x="390.92" y="263.25" width="5.5" height="5.5" fill="none" stroke="#ff0000" stroke-width="1.7"/><rect x="416.4" y="273.95" width="5.5" height="5.5" fill="none" stroke="#ff0000" stroke-width="1.7"/><rect x="441.89" y="286.25" width="5.5" height="5.5" fill="none" stroke="#ff0000" stroke-width="1.7"/><path d="M278.99 226.7L282.19 230.4L278.99 234.1L275.79 230.4Z" fill="#0000ff"/><path d="M329.95 249.5L333.15 253.2L329.95 256.9L326.75 253.2Z" fill="#0000ff"/><path d="M380.93 259.9L384.12 263.6L380.93 267.3L377.73 263.6Z" fill="#0000ff"/><path d="M431.89 291.3L435.09 295L431.89 298.7L428.69 295Z" fill="#0000ff"/><path d="M266.24 216.1L267.99 218.8L266.24 221.5L264.49 218.8Z" fill="none" stroke="#0000ff" stroke-width="1.2"/><path d="M291.73 232.5L293.48 235.2L291.73 237.9L289.98 235.2Z" fill="none" stroke="#0000ff" stroke-width="1.2"/><path d="M317.21 246.6L318.96 249.3L317.21 252L315.46 249.3Z" fill="none" stroke="#0000ff" stroke-width="1.2"/><path d="M342.7 259.5L344.45 262.2L342.7 264.9L340.95 262.2Z" fill="none" stroke="#0000ff" stroke-width="1.2"/><path d="M368.18 274.6L369.93 277.3L368.18 280L366.43 277.3Z" fill="none" stroke="#0000ff" stroke-width="1.2"/><path d="M393.67 288.3L395.42 291L393.67 293.7L391.92 291Z" fill="none" stroke="#0000ff" stroke-width="1.2"/><path d="M419.15 302.2L420.9 304.9L419.15 307.6L417.4 304.9Z" fill="none" stroke="#0000ff" stroke-width="1.2"/><path d="M444.64 317.4L446.39 320.1L444.64 322.8L442.89 320.1Z" fill="none" stroke="#0000ff" stroke-width="1.2"/><text x="293.4" y="198.4" font-size="9" font-weight="bold" font-style="italic" fill="#000">ATLAS</text><text x="305.8" y="209.1" font-size="9.85" fill="#111">Pb+Pb 5.02 TeV, 22 <tspan dx="0.7">µb</tspan><tspan font-size="6.5" dx="0.5" dy="-4.2">-1</tspan></text><text x="293" y="296.8" font-size="11" fill="#111">20-30%</text><rect x="274.4" y="304.9" width="15.4" height="10.2" rx="1" fill="#9c9c9c" stroke="#000000" stroke-width="1.8"/><circle cx="282.1" cy="310" r="2.9" fill="#000000"/><text x="293.2" y="313.6" font-size="10.3" fill="#111">r</text><text x="296.6" y="317.4" font-size="7.4" fill="#222">3<tspan fill="#8a8a8a" stroke="#8a8a8a">|</tspan>3;1</text><rect x="274.4" y="320.6" width="15.4" height="10.2" rx="1" fill="#ff9c9c" stroke="#ff0000" stroke-width="1.8"/><rect x="279.4" y="323" width="5.4" height="5.4" fill="#ff0000"/><text x="293.2" y="329.3" font-size="10.3" fill="#111">r</text><text x="296.6" y="333.1" font-size="7.4" fill="#222">3<tspan fill="#8a8a8a" stroke="#8a8a8a">|</tspan>3;2</text><rect x="274.4" y="336.65" width="15.4" height="10.2" rx="1" fill="#9c9cff" stroke="#0000ff" stroke-width="1.8"/><path d="M282.1 338.55L285 341.75L282.1 344.95L279.2 341.75Z" fill="#0000ff"/><text x="293.2" y="345.35" font-size="10.3" fill="#111">r</text><text x="296.6" y="349.15" font-size="7.4" fill="#222">3<tspan fill="#8a8a8a" stroke="#8a8a8a">|</tspan>3;3</text><line x1="329" y1="326" x2="344.3" y2="326" stroke="#ff0000" stroke-width="1.2"/><rect x="333.85" y="323.25" width="5.5" height="5.5" fill="none" stroke="#ff0000" stroke-width="1.7"/><text x="348" y="328.2" font-size="10.3" fill="#111">r</text><text x="351.4" y="324.9" font-size="7.4" fill="#222">2</text><text x="351.4" y="332.6" font-size="7.4" fill="#222">3<tspan fill="#8a8a8a" stroke="#8a8a8a">|</tspan>3;1</text><line x1="329" y1="341.9" x2="344.3" y2="341.9" stroke="#0000ff" stroke-width="1.2"/><path d="M336.6 339.1L338.5 341.9L336.6 344.7L334.7 341.9Z" fill="none" stroke="#0000ff" stroke-width="1.2"/><text x="348" y="344.1" font-size="10.3" fill="#111">r</text><text x="351.4" y="340.8" font-size="7.4" fill="#222">3</text><text x="351.4" y="348.5" font-size="7.4" fill="#222">3<tspan fill="#8a8a8a" stroke="#8a8a8a">|</tspan>3;1</text><rect x="471.1" y="183.8" width="210.2" height="175.1" fill="none" stroke="#111" stroke-width="1.15"/><path d="M471.1 356.2h3.6M681.3 356.2h-3.6M471.1 340.1h7M681.3 340.1h-7M471.1 324h3.6M681.3 324h-3.6M471.1 307.9h3.6M681.3 307.9h-3.6M471.1 291.8h3.6M681.3 291.8h-3.6M471.1 275.7h7M681.3 275.7h-7M471.1 259.6h3.6M681.3 259.6h-3.6M471.1 243.5h3.6M681.3 243.5h-3.6M471.1 227.4h3.6M681.3 227.4h-3.6M471.1 211.3h7M681.3 211.3h-7M471.1 195.2h3.6M681.3 195.2h-3.6M479.55 358.9v-2.7M479.55 183.8v2.7M488 358.9v-2.7M488 183.8v2.7M496.45 358.9v-2.7M496.45 183.8v2.7M504.9 358.9v-2.7M504.9 183.8v2.7M513.35 358.9v-5.5M513.35 183.8v5.5M521.8 358.9v-2.7M521.8 183.8v2.7M530.25 358.9v-2.7M530.25 183.8v2.7M538.7 358.9v-2.7M538.7 183.8v2.7M547.15 358.9v-2.7M547.15 183.8v2.7M555.6 358.9v-5.5M555.6 183.8v5.5M564.05 358.9v-2.7M564.05 183.8v2.7M572.5 358.9v-2.7M572.5 183.8v2.7M580.95 358.9v-2.7M580.95 183.8v2.7M589.4 358.9v-2.7M589.4 183.8v2.7M597.85 358.9v-5.5M597.85 183.8v5.5M606.3 358.9v-2.7M606.3 183.8v2.7M614.75 358.9v-2.7M614.75 183.8v2.7M623.2 358.9v-2.7M623.2 183.8v2.7M631.65 358.9v-2.7M631.65 183.8v2.7M640.1 358.9v-5.5M640.1 183.8v5.5M648.55 358.9v-2.7M648.55 183.8v2.7M657 358.9v-2.7M657 183.8v2.7M665.45 358.9v-2.7M665.45 183.8v2.7M673.9 358.9v-2.7M673.9 183.8v2.7" stroke="#111" stroke-width="1.1" fill="none"/><line x1="478.3" y1="211.3" x2="674.3" y2="211.3" stroke="#222" stroke-width="1.1" stroke-dasharray="1.6 2.045"/><rect x="493.45" y="204.5" width="6" height="24.5" fill="#9a9aff"/><line x1="496.45" y1="184.1" x2="496.45" y2="248.6" stroke="#0000ff" stroke-width="2"/><rect x="544.15" y="220" width="6" height="14.5" fill="#9a9aff"/><line x1="547.15" y1="197.3" x2="547.15" y2="256.8" stroke="#0000ff" stroke-width="2"/><rect x="594.85" y="273.1" width="6" height="30.8" fill="#9a9aff"/><line x1="597.85" y1="250.9" x2="597.85" y2="325.7" stroke="#0000ff" stroke-width="2"/><rect x="645.55" y="334.4" width="6" height="24.3" fill="#9a9aff"/><line x1="648.55" y1="310.7" x2="648.55" y2="358.7" stroke="#0000ff" stroke-width="2"/><line x1="483.78" y1="207.02" x2="483.78" y2="212.98" stroke="#ff0000" stroke-width="1.6"/><line x1="509.12" y1="222.96" x2="509.12" y2="229.64" stroke="#ff0000" stroke-width="1.6"/><line x1="534.48" y1="227.7" x2="534.48" y2="235.1" stroke="#ff0000" stroke-width="1.6"/><line x1="559.83" y1="240.34" x2="559.83" y2="248.46" stroke="#ff0000" stroke-width="1.6"/><line x1="585.18" y1="252.28" x2="585.18" y2="261.12" stroke="#ff0000" stroke-width="1.6"/><line x1="610.52" y1="259.22" x2="610.52" y2="268.78" stroke="#ff0000" stroke-width="1.6"/><line x1="635.88" y1="272.46" x2="635.88" y2="282.74" stroke="#ff0000" stroke-width="1.6"/><line x1="661.23" y1="288" x2="661.23" y2="299" stroke="#ff0000" stroke-width="1.6"/><circle cx="483.78" cy="213.6" r="3" fill="#000000"/><circle cx="509.12" cy="218.7" r="3" fill="#000000"/><circle cx="534.48" cy="224.1" r="3" fill="#000000"/><circle cx="559.83" cy="229" r="3" fill="#000000"/><circle cx="585.18" cy="235.3" r="3" fill="#000000"/><circle cx="610.52" cy="241.3" r="3" fill="#000000"/><circle cx="635.88" cy="247.1" r="3" fill="#000000"/><circle cx="661.23" cy="253.5" r="3" fill="#000000"/><rect x="480.98" y="207.2" width="5.6" height="5.6" fill="#ff0000"/><rect x="506.32" y="223.5" width="5.6" height="5.6" fill="#ff0000"/><rect x="531.68" y="228.6" width="5.6" height="5.6" fill="#ff0000"/><rect x="557.03" y="241.6" width="5.6" height="5.6" fill="#ff0000"/><rect x="582.38" y="253.9" width="5.6" height="5.6" fill="#ff0000"/><rect x="607.73" y="261.2" width="5.6" height="5.6" fill="#ff0000"/><rect x="633.08" y="274.8" width="5.6" height="5.6" fill="#ff0000"/><rect x="658.43" y="290.7" width="5.6" height="5.6" fill="#ff0000"/><rect x="481.03" y="214.45" width="5.5" height="5.5" fill="none" stroke="#ff0000" stroke-width="1.7"/><rect x="506.38" y="223.55" width="5.5" height="5.5" fill="none" stroke="#ff0000" stroke-width="1.7"/><rect x="531.73" y="233.55" width="5.5" height="5.5" fill="none" stroke="#ff0000" stroke-width="1.7"/><rect x="557.08" y="241.65" width="5.5" height="5.5" fill="none" stroke="#ff0000" stroke-width="1.7"/><rect x="582.43" y="253.95" width="5.5" height="5.5" fill="none" stroke="#ff0000" stroke-width="1.7"/><rect x="607.77" y="264.85" width="5.5" height="5.5" fill="none" stroke="#ff0000" stroke-width="1.7"/><rect x="633.12" y="274.85" width="5.5" height="5.5" fill="none" stroke="#ff0000" stroke-width="1.7"/><rect x="658.48" y="286.55" width="5.5" height="5.5" fill="none" stroke="#ff0000" stroke-width="1.7"/><path d="M496.45 213.1L499.65 216.8L496.45 220.5L493.25 216.8Z" fill="#0000ff"/><path d="M547.15 223.5L550.35 227.2L547.15 230.9L543.95 227.2Z" fill="#0000ff"/><path d="M597.85 284.4L601.05 288.1L597.85 291.8L594.65 288.1Z" fill="#0000ff"/><path d="M648.55 343.7L651.75 347.4L648.55 351.1L645.35 347.4Z" fill="#0000ff"/><path d="M483.78 217.2L485.53 219.9L483.78 222.6L482.03 219.9Z" fill="none" stroke="#0000ff" stroke-width="1.2"/><path d="M509.12 231.2L510.88 233.9L509.12 236.6L507.38 233.9Z" fill="none" stroke="#0000ff" stroke-width="1.2"/><path d="M534.48 245.7L536.23 248.4L534.48 251.1L532.73 248.4Z" fill="none" stroke="#0000ff" stroke-width="1.2"/><path d="M559.83 256.3L561.58 259L559.83 261.7L558.08 259Z" fill="none" stroke="#0000ff" stroke-width="1.2"/><path d="M585.18 274.9L586.93 277.6L585.18 280.3L583.43 277.6Z" fill="none" stroke="#0000ff" stroke-width="1.2"/><path d="M610.52 289.4L612.27 292.1L610.52 294.8L608.77 292.1Z" fill="none" stroke="#0000ff" stroke-width="1.2"/><path d="M635.88 303.6L637.62 306.3L635.88 309L634.12 306.3Z" fill="none" stroke="#0000ff" stroke-width="1.2"/><path d="M661.23 318.2L662.98 320.9L661.23 323.6L659.48 320.9Z" fill="none" stroke="#0000ff" stroke-width="1.2"/><text x="510.7" y="198.4" font-size="9" font-weight="bold" font-style="italic" fill="#000">ATLAS</text><text x="523" y="209.1" font-size="9.85" fill="#111">Pb+Pb 5.02 TeV, 22 <tspan dx="0.7">µb</tspan><tspan font-size="6.5" dx="0.5" dy="-4.2">-1</tspan></text><text x="510.1" y="296.8" font-size="11" fill="#111">30-40%</text><rect x="491.9" y="304.9" width="14.5" height="10.2" rx="1" fill="#9c9c9c" stroke="#000000" stroke-width="1.8"/><circle cx="499.15" cy="310" r="2.9" fill="#000000"/><text x="510.5" y="313.6" font-size="10.3" fill="#111">r</text><text x="513.9" y="317.4" font-size="7.4" fill="#222">3<tspan fill="#8a8a8a" stroke="#8a8a8a">|</tspan>3;1</text><rect x="491.9" y="320.6" width="14.5" height="10.2" rx="1" fill="#ff9c9c" stroke="#ff0000" stroke-width="1.8"/><rect x="496.45" y="323" width="5.4" height="5.4" fill="#ff0000"/><text x="510.5" y="329.3" font-size="10.3" fill="#111">r</text><text x="513.9" y="333.1" font-size="7.4" fill="#222">3<tspan fill="#8a8a8a" stroke="#8a8a8a">|</tspan>3;2</text><rect x="491.9" y="336.65" width="14.5" height="10.2" rx="1" fill="#9c9cff" stroke="#0000ff" stroke-width="1.8"/><path d="M499.15 338.55L502.05 341.75L499.15 344.95L496.25 341.75Z" fill="#0000ff"/><text x="510.5" y="345.35" font-size="10.3" fill="#111">r</text><text x="513.9" y="349.15" font-size="7.4" fill="#222">3<tspan fill="#8a8a8a" stroke="#8a8a8a">|</tspan>3;3</text><line x1="545.7" y1="326" x2="561.1" y2="326" stroke="#ff0000" stroke-width="1.2"/><rect x="550.65" y="323.25" width="5.5" height="5.5" fill="none" stroke="#ff0000" stroke-width="1.7"/><text x="564.6" y="328.2" font-size="10.3" fill="#111">r</text><text x="568" y="324.9" font-size="7.4" fill="#222">2</text><text x="568" y="332.6" font-size="7.4" fill="#222">3<tspan fill="#8a8a8a" stroke="#8a8a8a">|</tspan>3;1</text><line x1="545.7" y1="341.9" x2="561.1" y2="341.9" stroke="#0000ff" stroke-width="1.2"/><path d="M553.4 339.1L555.3 341.9L553.4 344.7L551.5 341.9Z" fill="none" stroke="#0000ff" stroke-width="1.2"/><text x="564.6" y="344.1" font-size="10.3" fill="#111">r</text><text x="568" y="340.8" font-size="7.4" fill="#222">3</text><text x="568" y="348.5" font-size="7.4" fill="#222">3<tspan fill="#8a8a8a" stroke="#8a8a8a">|</tspan>3;1</text><text transform="translate(12,59.8) rotate(-90)" font-size="13.2" fill="#111">Correlator</text><text transform="translate(12,238.2) rotate(-90)" font-size="13.2" fill="#111">Correlator</text><text x="30.3" y="37.8" font-size="11" text-anchor="end" fill="#111">1</text><text x="30.3" y="101.35" font-size="11" text-anchor="end" fill="#111">0.8</text><text x="30.3" y="164.9" font-size="11" text-anchor="end" fill="#111">0.6</text><text x="30.3" y="215.8" font-size="11" text-anchor="end" fill="#111">1</text><text x="30.3" y="280.2" font-size="11" text-anchor="end" fill="#111">0.8</text><text x="30.3" y="344.6" font-size="11" text-anchor="end" fill="#111">0.6</text><text x="34.6" y="371.3" font-size="11" text-anchor="middle" fill="#111">0</text><text x="77.15" y="371.3" font-size="11" text-anchor="middle" fill="#111">0.5</text><text x="119.7" y="371.3" font-size="11" text-anchor="middle" fill="#111">1</text><text x="162.25" y="371.3" font-size="11" text-anchor="middle" fill="#111">1.5</text><text x="204.8" y="371.3" font-size="11" text-anchor="middle" fill="#111">2</text><text x="239.1" y="380.6" font-size="14" fill="#111">η</text><text x="253" y="371.3" font-size="11" text-anchor="middle" fill="#111">0</text><text x="295.48" y="371.3" font-size="11" text-anchor="middle" fill="#111">0.5</text><text x="337.95" y="371.3" font-size="11" text-anchor="middle" fill="#111">1</text><text x="380.43" y="371.3" font-size="11" text-anchor="middle" fill="#111">1.5</text><text x="422.9" y="371.3" font-size="11" text-anchor="middle" fill="#111">2</text><text x="456.5" y="380.6" font-size="14" fill="#111">η</text><text x="470.6" y="371.3" font-size="11" text-anchor="middle" fill="#111">0</text><text x="512.85" y="371.3" font-size="11" text-anchor="middle" fill="#111">0.5</text><text x="555.1" y="371.3" font-size="11" text-anchor="middle" fill="#111">1</text><text x="597.35" y="371.3" font-size="11" text-anchor="middle" fill="#111">1.5</text><text x="639.6" y="371.3" font-size="11" text-anchor="middle" fill="#111">2</text><text x="673.3" y="380.6" font-size="14" fill="#111">η</text></svg></body></html>
